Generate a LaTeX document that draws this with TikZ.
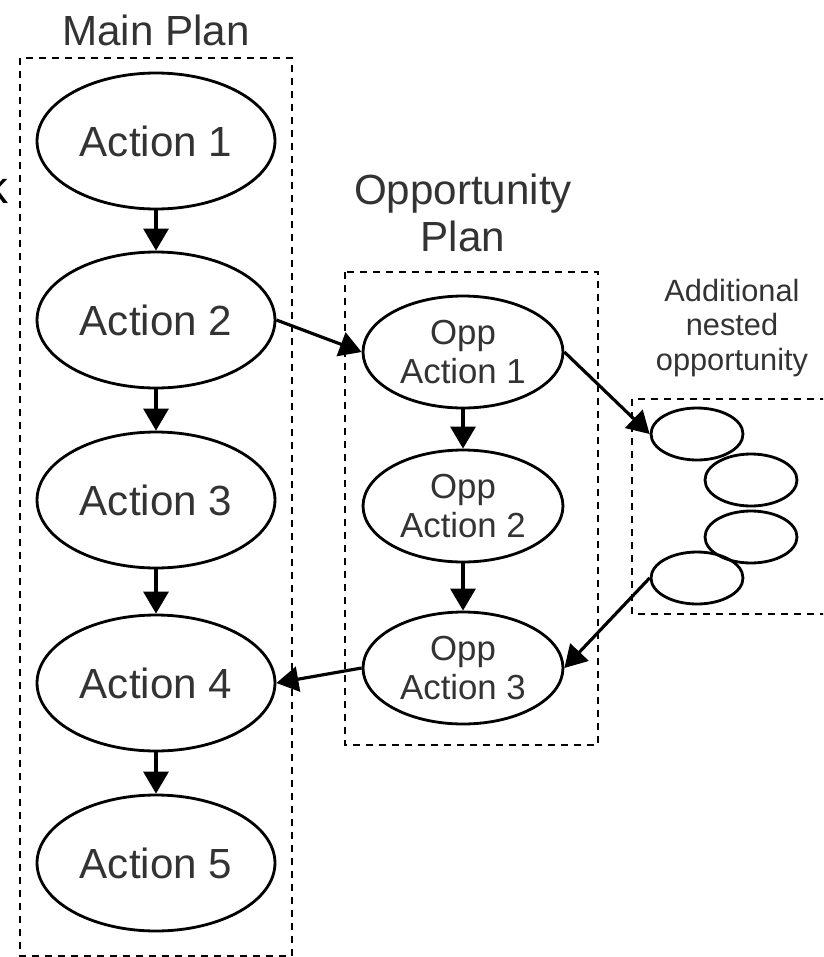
\documentclass[tikz,border=0pt]{standalone}
\usepackage{fontspec}
\setmainfont{Liberation Sans}
\usepackage{tikz}
\usetikzlibrary{arrows.meta}
\usetikzlibrary{shapes.geometric}
\definecolor{schrift}{HTML}{333333}

\begin{document}
\begin{tikzpicture}[x=0.02cm,y=-0.02cm,
    plan/.style={draw, line width=1.6pt, dash pattern=on 3.8pt off 3.6pt},
    aktion/.style={ellipse, draw, line width=1.6pt, minimum width=4.76cm, minimum height=2.72cm, inner sep=0pt, text=schrift, font=\fontsize{24}{28}\selectfont},
    oppaktion/.style={ellipse, draw, line width=1.6pt, minimum width=4cm, minimum height=2.24cm, inner sep=0pt, align=center, text=schrift, font=\fontsize{19.8}{22.7}\selectfont},
    klein/.style={ellipse, draw, line width=1.6pt, minimum width=1.84cm, minimum height=1.04cm, inner sep=0pt},
    pfeil/.style={-{Triangle[length=0.44cm,width=0.5cm]}, line width=1.8pt},
    titel/.style={text=schrift, font=\fontsize{24}{27}\selectfont, align=center}]
    \useasboundingbox (0,0) rectangle (823,957);
    \clip (0,0) rectangle (823,957);
    \draw[plan] (20,58) rectangle (292,956);  %Hauptplan
    \draw[plan] (345,272) rectangle (598,745);  %Gelegenheitsplan
    \draw[plan] (840,399) -- (632,399) -- (632,614) -- (840,614);  %verschachtelt
    \node[titel] (mainplan) at (156,30) {Main Plan};
    \node[titel] (oppplan) at (463,213) {Opportunity\\Plan};
    \node[text=schrift, font=\fontsize{17.5}{19.8}\selectfont, align=center] (nestedtext) at (732,328) {Additional\\nested\\opportunity};
    \node[anchor=base east, inner sep=0pt, font=\fontsize{26}{30}\selectfont] (rest) at (9,203) {k};
    \foreach \i/\y in {1/141, 2/320, 3/500, 4/683, 5/863}
    {
      \node[aktion] (a\i) at (156,\y) {Action \i};
    }
    \foreach \i/\y in {1/352, 2/506, 3/668}
    {
      \node[oppaktion] (o\i) at (463,\y) {Opp\\Action \i};
    }
    \foreach \i/\x/\y in {1/697/434, 2/751/480, 3/751/537, 4/697/578}
    {
      \node[klein] (n\i) at (\x,\y) {};
    }
    \foreach \i/\j in {1/2, 2/3, 3/4, 4/5}
    {
      \draw[pfeil] (a\i) -- (a\j);
    }
    \draw[pfeil] (o1) -- (o2);
    \draw[pfeil] (o2) -- (o3);
    \draw[pfeil] (a2.east) -- (o1.west);
    \draw[pfeil] (o1.east) -- (n1.west);
    \draw[pfeil] (n4.west) -- (o3.east);
    \draw[pfeil] (o3.west) -- (a4.east);
\end{tikzpicture}
\end{document}
